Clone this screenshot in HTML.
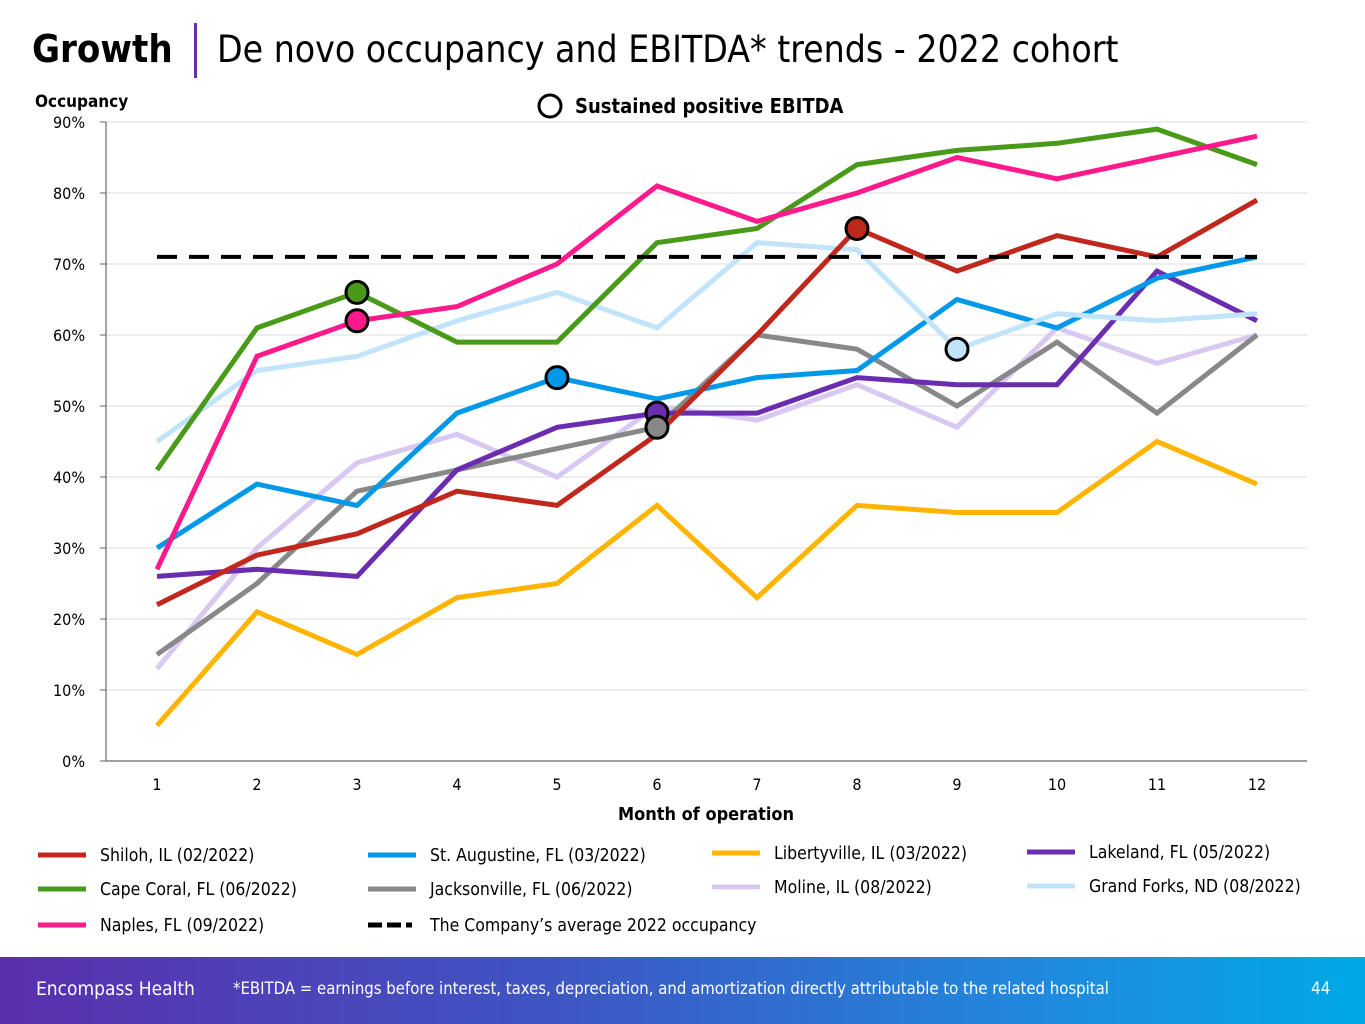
<!DOCTYPE html>
<html><head><meta charset="utf-8">
<style>
body{margin:0;width:1365px;height:1024px;overflow:hidden;background:#fff;font-family:"DejaVu Sans Condensed","Liberation Sans",sans-serif;}
#footer{position:absolute;left:0;top:957px;width:1365px;height:67px;background:linear-gradient(90deg,#5b2fae 0%,#3f55c2 40%,#1c8fe0 80%,#00a9e6 100%);color:#fff;}
</style></head>
<body>
<svg id="chart" width="1365" height="957" style="position:absolute;left:0;top:0;font-family:'DejaVu Sans Condensed','Liberation Sans',sans-serif;">
<text x="32" y="62" font-size="38" font-weight="bold" fill="#000">Growth</text>
<rect x="194" y="23" width="3" height="55" fill="#6a2db0"/>
<text x="217" y="62" font-size="37" fill="#000">De novo occupancy and EBITDA* trends - 2022 cohort</text>
<text x="35" y="107" font-size="17" font-weight="bold">Occupancy</text>
<circle cx="550" cy="106" r="11" fill="#fff" stroke="#000" stroke-width="3"/>
<text x="575" y="113" font-size="20" font-weight="bold">Sustained positive EBITDA</text>
<g id="grid"></g><g id="lines"></g><g id="marks"></g>
<text x="706" y="820" font-size="18" font-weight="bold" text-anchor="middle">Month of operation</text>
<g id="legend"></g>
</svg>
<div id="footer">
<span style="position:absolute;left:36px;top:21px;font-size:19px;">Encompass Health</span>
<span style="position:absolute;left:233px;top:22px;font-size:16.6px;">*EBITDA = earnings before interest, taxes, depreciation, and amortization directly attributable to the related hospital</span>
<span style="position:absolute;left:1311px;top:22px;font-size:17px;">44</span>
</div>
<script>
const months=[1,2,3,4,5,6,7,8,9,10,11,12];
const yTicks=[0,10,20,30,40,50,60,70,80,90];
const avgOccupancy=71;
const seriesNames=["Shiloh, IL (02/2022)","Cape Coral, FL (06/2022)","Naples, FL (09/2022)","St. Augustine, FL (03/2022)","Jacksonville, FL (06/2022)","Libertyville, IL (03/2022)","Moline, IL (08/2022)","Lakeland, FL (05/2022)","Grand Forks, ND (08/2022)"];
const shiloh=[22,29,32,38,36,46,60,75,69,74,71,79];
const capeCoral=[41,61,66,59,59,73,75,84,86,87,89,84];
const naples=[27,57,62,64,70,81,76,80,85,82,85,88];
const stAugustine=[30,39,36,49,54,51,54,55,65,61,68,71];
const jacksonville=[15,25,38,41,44,47,60,58,50,59,49,60];
const libertyville=[5,21,15,23,25,36,23,36,35,35,45,39];
const moline=[13,30,42,46,40,50,48,53,47,61,56,60];
const lakeland=[26,27,26,41,47,49,49,54,53,53,69,62];
const grandForks=[45,55,57,62,66,61,73,72,58,63,62,63];
const ebitdaMonth=[8,3,3,5,6,null,null,6,9];

const colors=["#c0281e","#4a9a1a","#ff1a8c","#0099ea","#888888","#ffb400","#d8c8f2","#6a2db0","#c2e4fb"];
const data=[shiloh,capeCoral,naples,stAugustine,jacksonville,libertyville,moline,lakeland,grandForks];
const drawOrder=[5,6,4,7,3,8,0,1,2];
const NS="http://www.w3.org/2000/svg";
const X=m=>157+(m-1)*100;
const Y=v=>761-v*7.1;
function mk(tag,attrs,parent){const e=document.createElementNS(NS,tag);for(const k in attrs)e.setAttribute(k,attrs[k]);parent.appendChild(e);return e;}
const grid=document.getElementById('grid'),lines=document.getElementById('lines'),marks=document.getElementById('marks'),legend=document.getElementById('legend');
yTicks.forEach(t=>{
  if(t>0){const g=mk('line',{x1:106,x2:1307,y1:Y(t),y2:Y(t),stroke:'#dedede','stroke-width':1},grid);
  
  }
  const tk=mk('line',{x1:100,x2:106,y1:Y(t),y2:Y(t),stroke:'#666'},grid);
  
  
  const lb=mk('text',{x:85,y:Y(t)+6,'font-size':16,'text-anchor':'end'},grid);lb.textContent=t+'%';
  
  
});
const ax=mk('path',{d:`M106 ${Y(90)} V761 H1307`,stroke:'#666',fill:'none','stroke-width':1.2},grid);


months.forEach(m=>{
  const lb=mk('text',{x:X(m),y:790,'font-size':16,'text-anchor':'middle'},grid);lb.textContent=m;
  
  
});
drawOrder.forEach(i=>{
  const p=mk('polyline',{points:data[i].map((v,j)=>X(months[j])+','+Y(v)).join(' '),fill:'none',stroke:colors[i],'stroke-width':5,'stroke-linejoin':'miter'},lines);
  
  
});
const avg=mk('line',{x1:157,x2:1257,y1:Y(avgOccupancy),y2:Y(avgOccupancy),stroke:'#000','stroke-width':4,'stroke-dasharray':'20 12'},lines);


[0,1,2,3,7,4,8].forEach(i=>{
  const m=ebitdaMonth[i];if(!m)return;
  const c=mk('circle',{cx:X(m),cy:Y(data[i][m-1]),r:11,fill:colors[i],stroke:'#000','stroke-width':3},marks);
  
  
});
const legPos=[[38,855],[38,889],[38,925],[368,855],[368,889],[712,853],[712,887],[1027,852],[1027,886]];
legPos.forEach(([x,y],i)=>{
  const l=mk('line',{x1:x,x2:x+48,y1:y,y2:y,stroke:colors[i],'stroke-width':5},legend);
  
  
  const t=mk('text',{x:x+62,y:y+6,'font-size':17.5},legend);t.textContent=seriesNames[i];
  
  
});
const al=mk('line',{x1:368,x2:416,y1:925,y2:925,stroke:'#000','stroke-width':5,'stroke-dasharray':'14 5 14 5 6'},legend);


const at=mk('text',{x:430,y:931,'font-size':17.5},legend);at.textContent='The Company\u2019s average 2022 occupancy';


</script>
</body></html>
